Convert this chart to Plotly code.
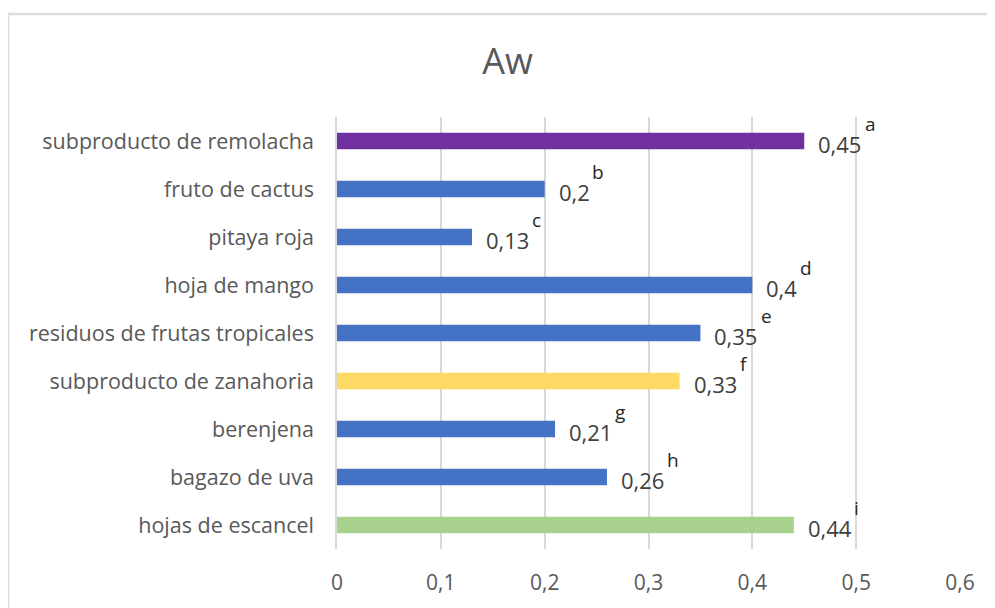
import plotly.graph_objects as go

categories = ["subproducto de remolacha", "fruto de cactus", "pitaya roja", "hoja de mango",
              "residuos de frutas tropicales", "subproducto de zanahoria", "berenjena",
              "bagazo de uva", "hojas de escancel"]
values = [0.45, 0.2, 0.13, 0.4, 0.35, 0.33, 0.21, 0.26, 0.44]
letters = ["a", "b", "c", "d", "e", "f", "g", "h", "i"]
colors = ["#7030A0", "#4472C4", "#4472C4", "#4472C4", "#4472C4", "#FFD966", "#4472C4", "#4472C4", "#A9D18E"]
tick_vals = [0, 0.1, 0.2, 0.3, 0.4, 0.5, 0.6]
tick_text = ["0", "0,1", "0,2", "0,3", "0,4", "0,5", "0,6"]

FONT = "Open Sans"
VAL_SIZE = 22
LET_SIZE = 19

def fmt(v):
    return ("%g" % v).replace(".", ",")

def text_width(s, size):
    # approximate Open Sans advance widths (digits 0.572em, comma 0.25em)
    return sum((0.25 if ch == "," else 0.572) * size for ch in s)

fig = go.Figure(go.Bar(
    y=categories, x=values, orientation="h",
    marker=dict(color=colors, line=dict(width=0)),
    width=0.34, hoverinfo="skip",
))

annotations = []
for c, v, l in zip(categories, values, letters):
    s = fmt(v)
    annotations.append(dict(x=v, y=c, xref="x", yref="y", text=s, showarrow=False,
                            xanchor="left", yanchor="middle", xshift=12, yshift=-3,
                            font=dict(family=FONT, size=VAL_SIZE, color="#404040")))
    annotations.append(dict(x=v, y=c, xref="x", yref="y", text=l, showarrow=False,
                            xanchor="left", yanchor="middle",
                            xshift=15 + text_width(s, VAL_SIZE), yshift=17,
                            font=dict(family=FONT, size=LET_SIZE, color="#262626")))

fig.update_layout(
    width=995, height=608,
    margin=dict(l=329, r=43, t=109, b=67, autoexpand=False),
    paper_bgcolor="white", plot_bgcolor="white",
    title=dict(text="Aw", x=0.502, xanchor="center", y=0.912, yanchor="middle",
               yref="container", automargin=False,
               font=dict(family=FONT, size=36, color="#595959")),
    xaxis=dict(range=[0, 0.6], tickvals=tick_vals, ticktext=tick_text, autorange=False,
               showgrid=True, gridcolor="#D9D9D9", gridwidth=1.5,
               zeroline=False, showline=False, automargin=False,
               ticks="outside", ticklen=15, tickcolor="rgba(0,0,0,0)",
               tickfont=dict(family=FONT, size=21, color="#595959")),
    yaxis=dict(categoryorder="array", categoryarray=categories[::-1],
               range=[-0.5, len(categories) - 0.5], autorange=False, automargin=False,
               showgrid=False, zeroline=False, showline=True, linecolor="#D9D9D9", linewidth=1.5,
               ticks="outside", ticklen=17, tickcolor="rgba(0,0,0,0)",
               tickfont=dict(family=FONT, size=21.5, color="#595959")),
    showlegend=False,
    annotations=annotations,
    shapes=[dict(type="rect", xref="paper", yref="paper",
                 x0=(0 - 329) / 623, x1=1.2, y0=-0.3, y1=(608 - 6 - 67) / 432,
                 line=dict(color="#DCDCDC", width=2.5), fillcolor="rgba(0,0,0,0)", layer="below")],
)

fig.write_html("out.html")
